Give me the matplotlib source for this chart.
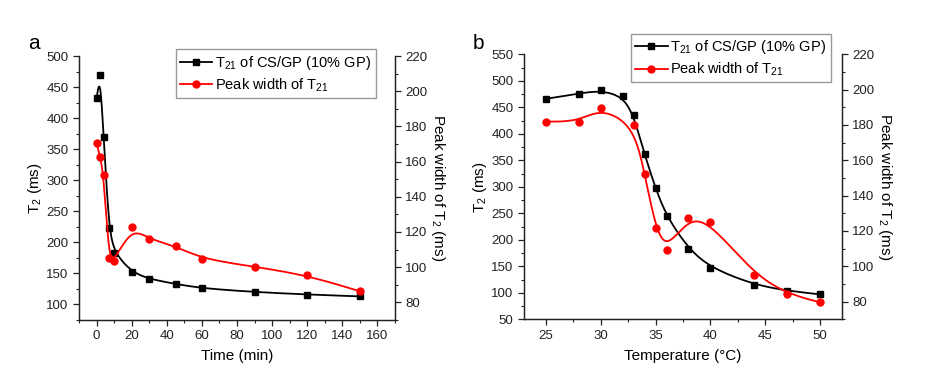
import numpy as np
import matplotlib
matplotlib.use('Agg')
import matplotlib.pyplot as plt
from matplotlib.ticker import MultipleLocator

plt.rcParams['font.family'] = ['Liberation Sans', 'DejaVu Sans']
plt.rcParams['mathtext.fontset'] = 'custom'
plt.rcParams['mathtext.rm'] = 'Liberation Sans'
plt.rcParams['mathtext.it'] = 'Liberation Sans'

# Panel a: relaxation time vs time
time_min = [0, 2, 4, 7, 10, 20, 30, 45, 60, 90, 120, 150]
t21_a = [432, 470, 370, 223, 183, 152, 141, 133, 126, 120, 116, 113]
width_time = [0, 2, 4, 7, 10, 20, 30, 45, 60, 90, 120, 150]
width_a = [170.6, 162.8, 152.4, 105.0, 103.4, 122.7, 115.9, 112.0, 104.7, 100.3, 95.4, 86.3]

# Panel b: relaxation time vs temperature
temp_t21 = [25, 28, 30, 32, 33, 34, 35, 36, 38, 40, 44, 47, 50]
t21_b = [466, 476, 482, 471, 435, 361, 297, 244, 183, 147, 115, 104, 97]
temp_width = [25, 28, 30, 33, 34, 35, 36, 38, 40, 44, 47, 50]
width_b = [181.9, 181.9, 189.7, 180.2, 152.4, 121.8, 109.2, 127.5, 124.8, 95.3, 84.5, 79.6]

lbl_t21 = r'T$_{21}$ of CS/GP (10% GP)'
lbl_width = r'Peak width of T$_{21}$'


def bspline(x, y, n=40):
    # uniform cubic B-spline, data points used as control points (Origin style)
    px = np.r_[x[0], x[0], x, x[-1], x[-1]].astype(float)
    py = np.r_[y[0], y[0], y, y[-1], y[-1]].astype(float)
    t = np.linspace(0, 1, n)
    b0 = (1 - t) ** 3 / 6
    b1 = (3 * t**3 - 6 * t**2 + 4) / 6
    b2 = (-3 * t**3 + 3 * t**2 + 3 * t + 1) / 6
    b3 = t**3 / 6
    xs, ys = [], []
    for i in range(len(px) - 3):
        xs.append(b0 * px[i] + b1 * px[i + 1] + b2 * px[i + 2] + b3 * px[i + 3])
        ys.append(b0 * py[i] + b1 * py[i + 1] + b2 * py[i + 2] + b3 * py[i + 3])
    return np.concatenate(xs), np.concatenate(ys)


def style_axis(ax):
    ax.tick_params(which='both', direction='out', labelsize=9.5, colors='#222222')
    ax.tick_params(which='major', length=4, width=0.9)
    ax.tick_params(which='minor', length=2.2, width=0.8)
    ax.spines['top'].set_visible(False)
    for s in ax.spines.values():
        s.set_linewidth(0.9)
        s.set_color('#222222')


fig = plt.figure(figsize=(9.31, 3.79), dpi=100)
ax_a = fig.add_axes([0.0849, 0.1557, 0.3394, 0.6965])
ax_b = fig.add_axes([0.5628, 0.1575, 0.3416, 0.6992])

panels = [
    (ax_a, time_min, t21_a, width_time, width_a, (-10, 170), (75, 500), 20, 10, 50, 'Time (min)', 'a',
     (0.939, 1.025)),
    (ax_b, temp_t21, t21_b, temp_width, width_b, (23, 52), (50, 550), 5, 2.5, 50, 'Temperature (\u00b0C)', 'b',
     (0.965, 1.077)),
]

for ax, x1, y1, x2, y2, xlim, ylim, xmaj, xmin, ymaj, xlabel, letter, leg_pos in panels:
    ax2 = ax.twinx()
    sx, sy = bspline(x1, y1)
    ax.plot(sx, sy, color='black', lw=1.3)
    ax.plot(x1, y1, 's', color='black', ms=5)
    rx, ry = bspline(x2, y2)
    ax2.plot(rx, ry, color='red', lw=1.3)
    ax2.plot(x2, y2, 'o', color='red', ms=5)

    ax.set_xlim(*xlim)
    ax.set_ylim(*ylim)
    ax.xaxis.set_major_locator(MultipleLocator(xmaj))
    ax.xaxis.set_minor_locator(MultipleLocator(xmin))
    ax.yaxis.set_major_locator(MultipleLocator(ymaj))
    ax.yaxis.set_minor_locator(MultipleLocator(ymaj / 2))
    ax2.yaxis.set_minor_locator(MultipleLocator(10))
    ax2.set_yticks([80, 100, 120, 140, 160, 180, 200, 220])
    ax2.set_ylim(70, 220)
    style_axis(ax)
    style_axis(ax2)

    ax.set_xlabel(xlabel, fontsize=11, labelpad=5)
    ax.set_ylabel(r'T$_2$ (ms)', fontsize=11, labelpad=2)
    ax2.set_ylabel(r'Peak width of T$_2$ (ms)', fontsize=11, rotation=270, labelpad=14)

    h1 = plt.Line2D([], [], color='black', lw=1.3, marker='s', ms=5)
    h2 = plt.Line2D([], [], color='red', lw=1.3, marker='o', ms=5)
    leg = ax2.legend([h1, h2], [lbl_t21, lbl_width], loc='upper right', bbox_to_anchor=leg_pos,
                     borderaxespad=0, fontsize=10.5, frameon=True, fancybox=False, framealpha=1,
                     edgecolor='#999999', handlelength=2.2, handletextpad=0.2, borderpad=0.3,
                     labelspacing=0.3)
    leg.get_frame().set_linewidth(1.0)
    fig.text(ax.get_position().x0 - 0.055, 0.86, letter, fontsize=15, ha='left', va='bottom')

fig.savefig('out.png', dpi=100)
